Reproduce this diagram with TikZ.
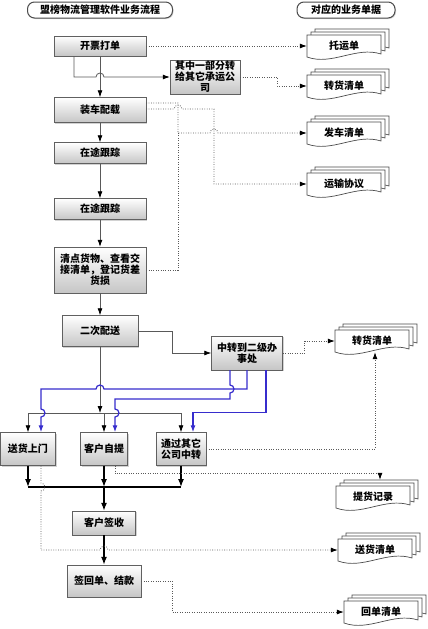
\documentclass[tikz,border=0pt]{standalone}
\usepackage{fontspec}
\setmainfont{Noto Sans CJK SC}
\usetikzlibrary{arrows.meta,shadows}

\definecolor{flowblue}{RGB}{55,45,205}
\newcommand\docpath{(-37,-11) -- (37,-11) -- (37,8) .. controls (12,0) and (-12,20) .. (-37,11) -- cycle}
\newcommand\docnode[4]{%
	\begin{scope}[shift={(#2,#3)}]
		\draw[docline,shift={(8pt,6pt)}] \docpath;
		\draw[docline,shift={(4pt,3pt)}] \docpath;
		\draw[docline] \docpath;
		\node[doctext] (#1) at (0,0) {#4};
	\end{scope}}

\begin{document}
\begin{tikzpicture}[x=1pt,y=-1pt,
		box/.style={draw=gray!75!black,top color=white,bottom color=gray!45,drop shadow={shadow xshift=1.2pt,shadow yshift=-1.2pt,opacity=.35},inner sep=1pt,align=center,font=\bfseries\fontsize{10}{11}\selectfont},
		title/.style={draw=gray!60!black,line width=1pt,rounded corners=7pt,fill=white,drop shadow={shadow xshift=1pt,shadow yshift=-1pt,opacity=.3},minimum height=16pt,inner sep=1pt,font=\bfseries\fontsize{10}{11}\selectfont},
		docline/.style={draw=gray!60!black,line width=0.7pt,fill=white},
		doctext/.style={minimum width=74pt,minimum height=22pt,inner sep=0pt,font=\bfseries\fontsize{10}{11}\selectfont},
		flow/.style={draw=gray!70!black,line width=0.8pt,-{Latex[length=7pt,width=5pt,color=black]}},
		flowline/.style={draw=gray!70!black,line width=0.8pt},
		darkflow/.style={draw=black,line width=1.3pt,-{Latex[length=8pt,width=6pt]}},
		darkline/.style={draw=black,line width=1.3pt},
		blueflow/.style={draw=flowblue,line width=1.2pt,-{Latex[length=7pt,width=5pt]}},
		dotflow/.style={draw=gray!70!black,line width=0.8pt,dash pattern=on 0.8pt off 1.6pt,-{Latex[length=7pt,width=5pt,color=black]}},
		dotline/.style={draw=gray!70!black,line width=0.8pt,dash pattern=on 0.8pt off 1.6pt}]
	\fill[white] (0,0) rectangle (428,629);
	\useasboundingbox (0,0) rectangle (428,629);

	\node[title,minimum width=145pt] (tl) at (100,10) {盟榜物流管理软件业务流程};
	\node[title,minimum width=98pt] (tr) at (346,10) {对应的业务单据};

	\node[box,minimum width=92pt,minimum height=20pt] (kp) at (100,46) {开票打单};
	\node[box,minimum width=70pt,minimum height=34pt] (qz) at (205,77) {其中一部分转\\给其它承运公\\司};
	\node[box,minimum width=92pt,minimum height=25pt] (zc) at (100,110) {装车配载};
	\node[box,minimum width=92pt,minimum height=21pt] (gz1) at (100,153) {在途跟踪};
	\node[box,minimum width=92pt,minimum height=21pt] (gz2) at (100,209) {在途跟踪};
	\node[box,minimum width=92pt,minimum height=46pt] (qd) at (100,270) {清点货物、查看交\\接清单，登记货差\\货损};
	\node[box,minimum width=76pt,minimum height=31pt] (ec) at (100,331) {二次配送};
	\node[box,minimum width=71pt,minimum height=34pt] (zz) at (247,353) {中转到二级办\\事处};
	\node[box,minimum width=55pt,minimum height=33pt] (sh) at (28,449) {送货上门};
	\node[box,minimum width=47pt,minimum height=33pt] (zt) at (104,449) {客户自提};
	\node[box,minimum width=50pt,minimum height=33pt] (tg) at (181,449) {通过其它\\公司中转};
	\node[box,minimum width=63pt,minimum height=24pt] (qs) at (104,523) {客户签收};
	\node[box,minimum width=74pt,minimum height=32pt] (hd) at (104,581) {签回单、结款};

	\docnode{ty}{344}{46}{托运单}
	\docnode{zh1}{344}{86}{转货清单}
	\docnode{fc}{344}{133}{发车清单}
	\docnode{ys}{344}{184}{运输协议}
	\docnode{zh2}{372}{341}{转货清单}
	\docnode{th}{373}{497}{提货记录}
	\docnode{sq}{375}{550}{送货清单}
	\docnode{hq}{381}{612}{回单清单}

	\coordinate (jf) at (178,133);
	\coordinate (bus) at (100,413);
	\coordinate (bus2) at (104,487);

	\draw[flow] (kp.south) -- (zc.north);
	\draw[flow] (zc.south) -- (gz1.north);
	\draw[flow] (gz1.south) -- (gz2.north);
	\draw[flow] (gz2.south) -- (qd.north);
	\draw[flow] (qd.south) -- (ec.north);
	\draw[flow] ([xshift=-26pt]kp.south) |- (96,77) arc[start angle=180,end angle=0,radius=4pt] -- (qz.west);

	\draw[dotflow] (kp.east) -- (ty.west);
	\draw[dotflow] (qz.east) -- ++(37,0) |- (zh1.west);
	\draw[dotflow] ([yshift=7pt]zc.east) -| (jf) -- (210,133) arc[start angle=180,end angle=0,radius=4pt] -- (fc.west);
	\draw[dotline] (qd.east) -| (jf);
	\draw[dotflow] ([yshift=1pt]zc.east) -- (174,109) arc[start angle=180,end angle=0,radius=4pt] -- (214,109) |- (ys.west);

	\draw[flow] (ec.east) -- ++(34,0) |- (zz.west);
	\draw[flow] (ec.south) -- (bus);
	\draw[flowline] (sh.north |- bus) -- (tg.north |- bus);
	\draw[flow] (sh.north |- bus) -- (sh.north);
	\draw[flow] (zt.north |- bus) -- (zt.north);
	\draw[flow] (tg.north |- bus) -- (tg.north);

	\draw[blueflow] (zz.south) |- (104,389) arc[start angle=0,end angle=180,radius=4pt] -- (41,389) -- (41,409) arc[start angle=90,end angle=-90,radius=4pt] -- ([xshift=13pt]sh.north);
	\draw[blueflow] ([xshift=-17pt]zz.south) -- (230,385) arc[start angle=90,end angle=-90,radius=4pt] |- (115,399) -- (115,409) arc[start angle=90,end angle=-90,radius=4pt] -- ([xshift=11pt]zt.north);
	\draw[blueflow] ([xshift=19pt]zz.south) |- ([xshift=12pt,yshift=20pt]tg.north) -- ([xshift=12pt]tg.north);

	\draw[darkflow] (sh.south) -- (sh.south |- bus2);
	\draw[darkflow] (zt.south) -- (zt.south |- bus2);
	\draw[darkflow] (tg.south) -- (tg.south |- bus2);
	\draw[darkline] (sh.south |- bus2) -- (tg.south |- bus2);
	\draw[darkflow] (bus2) -- (qs.north);
	\draw[darkflow] (qs.south) -- (hd.north);

	\draw[dotflow] (zz.east) -- ++(22,0) |- (zh2.west);
	\draw[dotflow] (tg.east) -| ([xshift=3pt]zh2.south);
	\draw[dotflow] ([xshift=11pt]zt.south) -- ++(0,8) -| ([xshift=7pt,yshift=6pt]th.north);
	\draw[dotflow] ([xshift=13pt]sh.south) -- (41,483) arc[start angle=90,end angle=-90,radius=4pt] -- (41,550) -- (100,550) arc[start angle=180,end angle=0,radius=4pt] -- (sq.west);
	\draw[dotflow] (hd.east) -- ++(31,0) |- (hq.west);
\end{tikzpicture}
\end{document}
